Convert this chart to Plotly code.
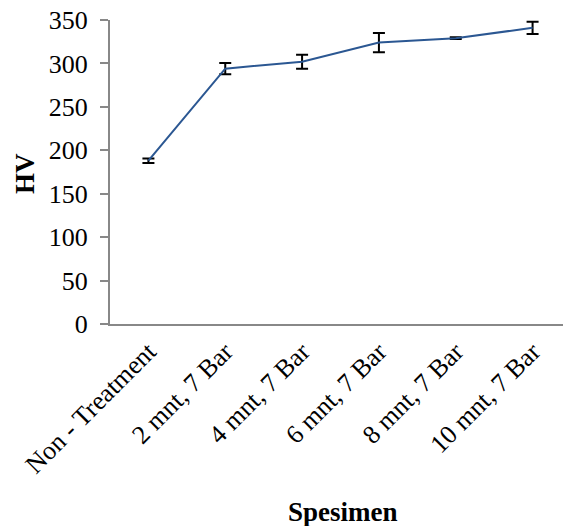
import plotly.graph_objects as go

categories = ["Non - Treatment", "2 mnt, 7 Bar", "4 mnt, 7 Bar", "6 mnt, 7 Bar", "8 mnt, 7 Bar", "10 mnt, 7 Bar"]
hv_values = [188, 294, 302, 324, 329, 341]
hv_errors = [2.5, 6.5, 8, 11, 1, 7]
y_ticks = [0, 50, 100, 150, 200, 250, 300, 350]

FONT = "Liberation Serif, Times New Roman, serif"

# page body adds an 8px offset; compensate so on-screen positions match
OFF = 8
W, H = 571, 526
L = 110 - OFF
T = 20 - OFF
PB = 324 - OFF  # plot bottom in figure px
B = H - PB
R = OFF

fig = go.Figure()
fig.add_trace(go.Scatter(
    x=list(range(len(categories))),
    y=hv_values,
    mode="lines",
    line=dict(color="#2B5792", width=2),
    error_y=dict(type="data", array=hv_errors, visible=True,
                 color="black", thickness=2, width=6),
    showlegend=False,
))

pw = W - L - R
ph = H - T - B

def px_to_paper(px, py):
    px -= OFF
    py -= OFF
    return (px - L) / pw, (H - B - py) / ph

sx, sy = px_to_paper(343, 512)
hx, hy = px_to_paper(25, 174)

fig.update_layout(
    width=W, height=H,
    margin=dict(l=L, r=R, t=T, b=B, autoexpand=False),
    paper_bgcolor="white", plot_bgcolor="white",
    font=dict(family=FONT, size=26, color="black"),
    xaxis=dict(
        range=[-0.5, 5.5],
        tickmode="array",
        tickvals=list(range(len(categories))),
        ticktext=categories,
        tickangle=-45,
        automargin=False,
        ticklabeloverflow="allow",
        showgrid=False, zeroline=False,
        showline=True, linecolor="#888888", linewidth=2,
        ticks="", tickfont=dict(size=26),
    ),
    yaxis=dict(
        range=[0, 350],
        tickvals=y_ticks,
        automargin=False,
        ticklabeloverflow="allow",
        showgrid=False, zeroline=False,
        showline=True, linecolor="#888888", linewidth=2,
        ticks="outside", ticklen=8, tickwidth=2, tickcolor="#888888",
        ticklabelstandoff=7,
        tickfont=dict(size=26),
    ),
    annotations=[
        dict(text="<b>Spesimen</b>", x=sx, y=sy, xref="paper", yref="paper",
             xanchor="center", yanchor="middle",
             showarrow=False, font=dict(size=27)),
        dict(text="<b>HV</b>", x=hx, y=hy, xref="paper", yref="paper",
             xanchor="center", yanchor="middle",
             textangle=-90, showarrow=False, font=dict(size=27)),
    ],
)

fig.write_html("out.html")
